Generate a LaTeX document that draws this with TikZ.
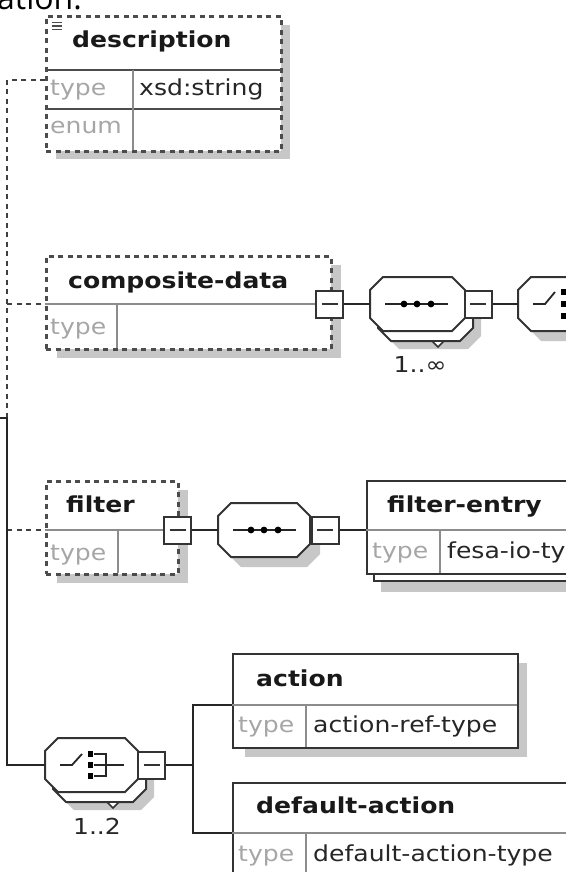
\documentclass[tikz,border=0pt]{standalone}
\usepackage{fontspec}
\setmainfont{DejaVu Sans}[FakeStretch=1.14]
\newfontfamily\pagefont{Open Sans}
\usetikzlibrary{shapes.misc}

\tikzset{
  wire/.style={draw=black!85,line width=2.3pt},
  optwire/.style={draw=black!75,line width=2.8pt,dash pattern=on 5pt off 4.5pt},
  elembox/.style={draw=black!80,line width=2.3pt,fill=white,inner sep=0pt,anchor=north west},
  optbox/.style={draw=black!70,line width=2.8pt,dash pattern=on 5pt off 4.5pt,fill=white,inner sep=0pt,anchor=north west},
  rowline/.style={draw=black!45,line width=1.8pt},
  shadebox/.style={fill=black!22},
  titletext/.style={font=\fontsize{22}{26}\selectfont\bfseries,text=black!90,anchor=west,inner sep=0pt,text height=15.5pt,text depth=5pt},
  attrtext/.style={font=\fontsize{22}{26}\selectfont,text=black!35,anchor=west,inner sep=0pt,text height=15.5pt,text depth=5pt},
  valtext/.style={font=\fontsize{22}{26}\selectfont,text=black!85,anchor=west,inner sep=0pt,text height=15.5pt,text depth=5pt},
  card/.style={font=\fontsize{22}{26}\selectfont,text=black!85,inner sep=0pt},
  expander/.style={draw=black!80,line width=2pt,fill=white,minimum size=27pt,inner sep=0pt,
    path picture={\draw[line width=1.6pt,black!80] ([xshift=-8pt]path picture bounding box.center) -- ([xshift=8pt]path picture bounding box.center);}},
  compline/.style={draw=black!80,line width=2pt,fill=white},
  compshade/.style={fill=black!22},
  comphook/.style={inner sep=0pt},
  iconline/.style={line width=1.8pt,black!85},
}
% octagon of a compositor: left, top, right, bottom
\newcommand{\octagon}[5][compline]{%
  \path[#1] (#2+13,#3) -- (#4-13,#3) -- (#4,#3+13) -- (#4,#5-13) -- (#4-13,#5)
    -- (#2+13,#5) -- (#2,#5-13) -- (#2,#3+13) -- cycle;}

\begin{document}
\begin{tikzpicture}[x=1pt,y=1pt,yscale=-1,xscale=1]
\useasboundingbox (0,0) rectangle (565,872);

% Text Node
\node[font=\pagefont\fontsize{32}{34}\selectfont,anchor=base west,inner sep=0pt] (cuttext) at (-3,10) {ation.};

\coordinate (trunkTop) at (7,80);
\coordinate (trunkMid) at (7,418);
\coordinate (trunkIn) at (-10,418);
\coordinate (trunkEnd) at (7,765);

%Shape: Rectangle [description]
\fill[shadebox] (56,25) rectangle (290,159);
\node[optbox,minimum width=235pt,minimum height=135pt] (descr) at (45,15) {};
\draw[rowline,draw=black!70] (45,70) -- (280,70);
\draw[rowline,draw=black!70] (45,109) -- (280,109);
\draw[rowline] (133,70) -- (133,150);
\foreach \y in {22.5,26,29.5}
  \draw[line width=1.3pt,black!70] (52,\y) -- (62,\y);
% Text Node
\node[titletext] (descrName) at (72,42) {description};
\node[attrtext] (descrType) at (50,90) {type};
\node[valtext] (descrTypeVal) at (139,90) {xsd:string};
\node[attrtext] (descrEnum) at (50,128) {enum};

%Shape: Rectangle [composite-data]
\fill[shadebox] (57,265) rectangle (341,358);
\node[optbox,minimum width=285pt,minimum height=93pt] (cdata) at (45,255) {};
\node[expander] (cdExp) at (329.5,304) {};
\draw[rowline] (45,304) -- (cdExp.west);
\draw[rowline] (117,304) -- (117,348);
% Text Node
\node[titletext] (cdataName) at (68,283) {composite-data};
\node[attrtext] (cdataType) at (50,329) {type};

%Shape: Sequence [composite-data]
\octagon[compshade]{386}{295}{481}{349}
\octagon{378}{287}{473}{341}
\draw[line width=1.6pt,black!80,fill=white] (432,341) -- (444,341) -- (438,347) -- cycle;
\octagon{370}{277}{465}{331}
\node[comphook,minimum width=95pt,minimum height=54pt] (cdSeq) at (417.5,304) {};
\draw[iconline] (385,304) -- (448,304);
\foreach \x in {404,417,431}
  \fill[black] (\x,304) circle (3.4pt);
\node[expander] (cdSeqExp) at (478,304) {};
\node[card] (cdCard) at (420,364) {1..∞};

%Shape: Choice [composite-data]
\octagon[compshade]{528}{287}{640}{341}
\octagon{518}{277}{630}{331}
\node[comphook,minimum width=112pt,minimum height=54pt] (cdCho) at (574,304) {};
\draw[iconline] (533,304) -- (545,304) -- (555,292);
\foreach \y in {292,304,316}
  \fill[black] (560.5,\y-2.7) rectangle (565.9,\y+2.7);

%Shape: Rectangle [filter]
\fill[shadebox] (57,490) rectangle (188,583);
\node[optbox,minimum width=132pt,minimum height=93pt] (filter) at (45,480) {};
\node[expander] (filtExp) at (177.5,530) {};
\draw[rowline] (45,530) -- (filtExp.west);
\draw[rowline] (118,530) -- (118,573);
% Text Node
\node[titletext] (filterName) at (66,507) {filter};
\node[attrtext] (filterType) at (50,555) {type};

%Shape: Sequence [filter]
\octagon[compshade]{228}{513}{320}{567}
\octagon{218}{503}{310}{557}
\node[comphook,minimum width=92pt,minimum height=54pt] (filtSeq) at (264,530) {};
\draw[iconline] (233,530) -- (296,530);
\foreach \x in {251,264,278}
  \fill[black] (\x,530) circle (3.4pt);
\node[expander] (filtSeqExp) at (325,530) {};

%Shape: Rectangle [filter-entry]
\fill[shadebox] (381,492) rectangle (640,592);
\node[elembox,minimum width=264pt,minimum height=93pt] (fentryBack) at (373,487) {};
\node[elembox,minimum width=264pt,minimum height=93pt] (fentry) at (366,480) {};
\draw[rowline] (366,530) -- (630,530);
\draw[rowline] (440,530) -- (440,573);
% Text Node
\node[titletext] (fentryName) at (387,507) {filter-entry};
\node[attrtext] (fentryType) at (372,553) {type};
\node[valtext] (fentryTypeVal) at (447,553) {fesa-io-type};

%Shape: Choice [action]
\octagon[compshade]{61}{756}{154}{810}
\octagon{53}{748}{146}{802}
\draw[line width=1.6pt,black!80,fill=white] (107,802) -- (119,802) -- (113,808) -- cycle;
\octagon{45}{738}{138}{792}
\node[comphook,minimum width=93pt,minimum height=54pt] (botCho) at (91.5,765) {};
\draw[iconline] (60,765) -- (72,765) -- (82,754);
\foreach \y in {754,765,776}
  \fill[black] (87.5,\y-2.7) rectangle (92.9,\y+2.7);
\draw[iconline] (94,754) -- (106,754) -- (106,776) -- (94,776);
\draw[iconline] (94,765) -- (124,765);
\node[expander] (botExp) at (151.5,765) {};
\node[card] (botCard) at (97,826) {1..2};
\coordinate (fork) at (193,765);

%Shape: Rectangle [action]
\fill[shadebox] (245,663) rectangle (527,757);
\node[elembox,minimum width=285pt,minimum height=94pt] (action) at (232,653) {};
\draw[rowline] (232,705) -- (517,705);
\draw[rowline] (306,705) -- (306,747);
% Text Node
\node[titletext] (actionName) at (256,681) {action};
\node[attrtext] (actionType) at (238,727) {type};
\node[valtext] (actionTypeVal) at (313,727) {action-ref-type};

%Shape: Rectangle [default-action]
\node[elembox,minimum width=400pt,minimum height=130pt] (defact) at (232,782) {};
\draw[rowline] (232,833) -- (632,833);
\draw[rowline] (306,833) -- (306,912);
% Text Node
\node[titletext] (defactName) at (256,808) {default-action};
\node[attrtext] (defactType) at (238,856) {type};
\node[valtext] (defactTypeVal) at (313,856) {default-action-type};

%Connectors
\draw[optwire] (descr.west |- trunkTop) -- (trunkTop) -- (trunkMid);
\draw[optwire] (trunkTop |- cdExp) -- (cdata.west |- cdExp);
\draw[optwire] (trunkTop |- filtExp) -- (filter.west |- filtExp);
\draw[wire] (trunkIn) -- (trunkMid) -- (trunkEnd) -- (botCho);
\draw[wire] (cdExp) -- (cdSeq);
\draw[wire] (cdSeqExp) -- (cdCho);
\draw[wire] (filtExp) -- (filtSeq);
\draw[wire] (filtSeqExp) -- (fentry.west |- filtSeqExp);
\draw[wire] (botExp) -- (fork);
\draw[wire] (action.west |- 0,705) -| (fork) |- (defact.west |- 0,833);

\end{tikzpicture}
\end{document}
